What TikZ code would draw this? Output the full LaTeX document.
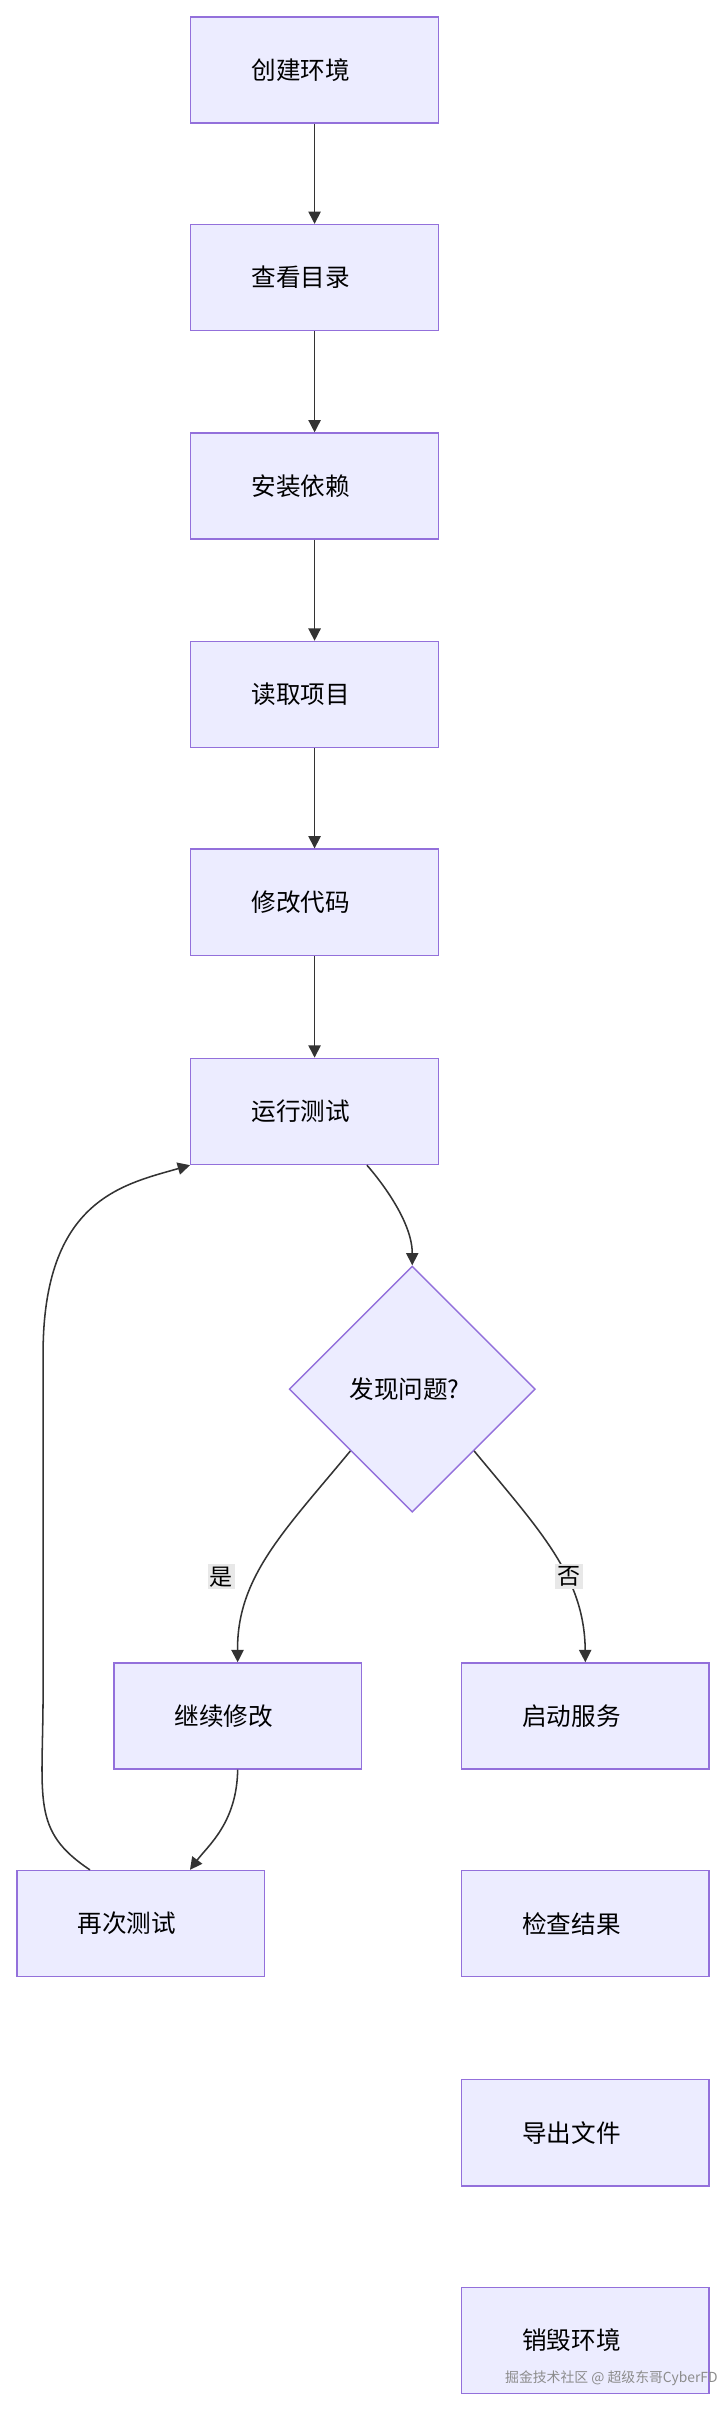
\documentclass[tikz,border=0pt]{standalone}
\usepackage{fontspec}
\setmainfont{Noto Sans CJK SC}
\usetikzlibrary{shapes.geometric,arrows.meta}
\definecolor{nf}{HTML}{ECECFF}
\definecolor{nb}{HTML}{9370DB}
\definecolor{ln}{HTML}{333333}
\begin{document}
\begin{tikzpicture}[x=1pt,y=-1pt,
 box/.style={draw=nb,fill=nf,line width=0.9pt,minimum width=161pt,minimum height=69pt,inner sep=0pt,font=\fontsize{16}{18}\selectfont,text=black},
 dia/.style={draw=nb,fill=nf,line width=0.9pt,diamond,minimum width=160pt,minimum height=160pt,inner sep=0pt,font=\fontsize{16}{18}\selectfont},
 ar/.style={draw=ln,line width=1pt,-{Triangle[length=8pt,width=8pt]}},
 lab/.style={fill=black!9,inner sep=1.5pt,font=\fontsize{15}{17}\selectfont}]
\useasboundingbox (0,0) rectangle (472,1568);
\fill[white] (0,0) rectangle (472,1568);
\newcommand{\bx}[4]{\node[box] (#1) at (#2,#3) {\hspace*{-18pt}#4};}
\bx{a}{204.5}{45.5}{创建环境}
\bx{b}{204.5}{180.5}{查看目录}
\bx{c}{204.5}{316}{安装依赖}
\bx{d}{204.5}{451.5}{读取项目}
\bx{e}{204.5}{586.5}{修改代码}
\bx{f}{204.5}{722.5}{运行测试}
\node[dia] (g) at (268,903) {\hspace*{-10pt}发现问题?};
\bx{h}{154.5}{1115.5}{继续修改}
\bx{i}{380.5}{1115.5}{启动服务}
\bx{j}{91.5}{1250.5}{再次测试}
\bx{k}{380.5}{1250.5}{检查结果}
\bx{l}{380.5}{1386.5}{导出文件}
\bx{m}{380.5}{1521.5}{销毁环境}
\draw[ar] (a) -- (b);
\draw[ar] (b) -- (c);
\draw[ar] (c) -- (d);
\draw[ar] (d) -- (e);
\draw[ar] (e) -- (f);
\draw[ar] ([xshift=34pt]f.south) .. controls +(0,0) and (268,790) .. (g.north);
\draw[ar] (g.-135) .. controls (185,995) and (154,1025) .. (h.north);
\draw[ar] (g.-45) .. controls (351,995) and (380,1025) .. (i.north);
\draw[ar] (h.south) .. controls (154,1185) and (135,1200) .. ([xshift=32pt]j.north);
\draw[ar] ([xshift=-33pt]j.north) .. controls (20,1190) and (28,1170) .. (28,1100) -- (28,880) .. controls (28,780) and (80,770) .. (f.south west);
\node[lab] (y) at (144,1025) {是};
\node[lab] (n) at (370,1025) {否};
\node[font=\fontsize{9}{10}\selectfont,text=black!45,anchor=east] (w) at (470,1546) {掘金技术社区 @ 超级东哥CyberFD};
\end{tikzpicture}
\end{document}
